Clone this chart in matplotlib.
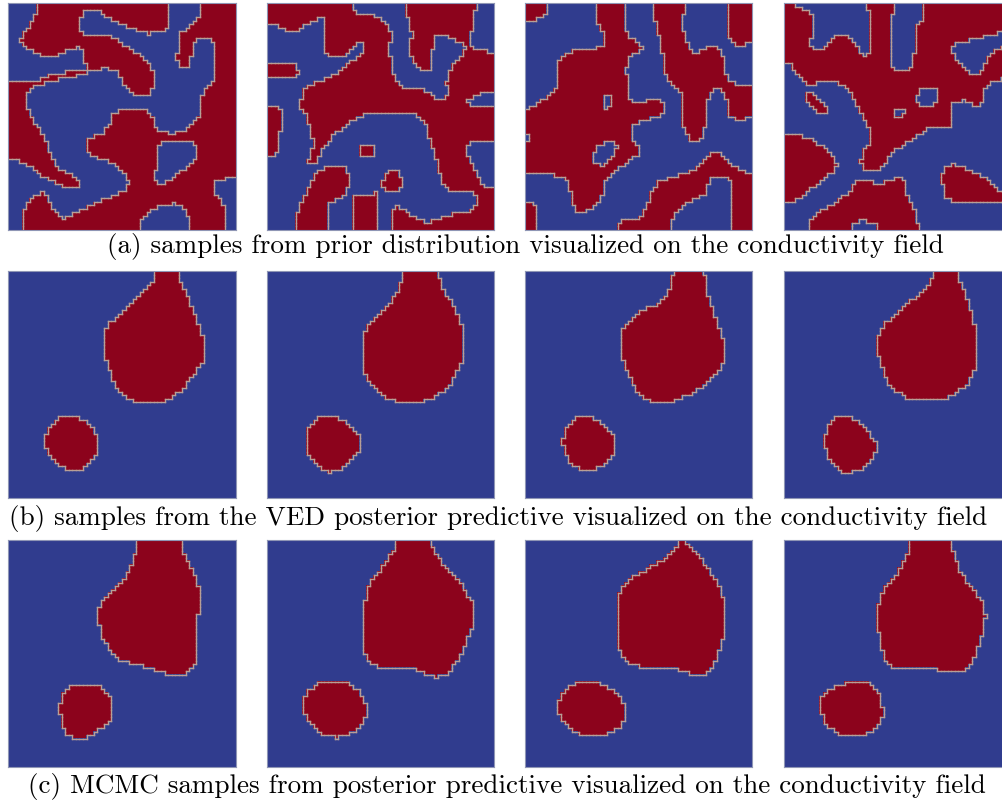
import numpy as np
import matplotlib
matplotlib.use('Agg')
import matplotlib.pyplot as plt
from matplotlib.path import Path
from matplotlib.collections import LineCollection
from matplotlib.colors import ListedColormap

N = 64  # field resolution (64 x 64 cells)
RED = '#8c031c'
BLUE = '#303c8e'
EDGE = '#b89f96'
FRAME = '#8f96b5'

# ---- prior samples: outlines traced on a 684x682 px copy of each panel ----
# entries are (value, vertices), painted in order; 1 = red, 0 = blue
PRIOR1_ORIGIN = (9, 9)
PRIOR1_BASE = 0
PRIOR1 = [
    (1, [(95, -10), (487, -10), (495, 50), (490, 85), (470, 95), (430, 100), (380, 85), (340, 70), (300, 50),
         (270, 25), (250, 25), (230, 40), (225, 80), (230, 105), (300, 105), (340, 120), (380, 150), (420, 175),
         (440, 200), (445, 240), (440, 280), (410, 290), (380, 280), (360, 260), (345, 230), (330, 210), (300, 205),
         (260, 210), (230, 224), (170, 236), (120, 248), (100, 252), (80, 260), (65, 280), (60, 310), (70, 330),
         (75, 345), (90, 370), (110, 400), (120, 425), (130, 455), (145, 485), (160, 505), (185, 515), (210, 530),
         (225, 545), (225, 560), (210, 565), (175, 560), (130, 540), (105, 525), (80, 505), (50, 485), (9, 475),
         (-10, 475), (-10, 240), (9, 240), (100, 240), (120, 230), (170, 218), (230, 208), (245, 208), (240, 200),
         (235, 160), (225, 140), (195, 148), (160, 162), (125, 170), (90, 158), (60, 140), (45, 120), (55, 95),
         (75, 70), (92, 40), (95, 9)]),
    (1, [(590, -10), (700, -10), (700, 530), (693, 530), (650, 540), (625, 550), (630, 575), (650, 605), (665, 625),
         (665, 655), (660, 690), (660, 700), (560, 700), (560, 690), (555, 665), (545, 635), (530, 615), (500, 610),
         (460, 620), (430, 635), (410, 655), (400, 690), (400, 700), (55, 700), (55, 690), (50, 645), (60, 615),
         (80, 595), (100, 580), (115, 577), (125, 595), (140, 625), (155, 645), (175, 655), (190, 650), (210, 640),
         (240, 625), (270, 610), (300, 595), (330, 585), (360, 570), (370, 545), (360, 525), (350, 510), (330, 495),
         (310, 485), (280, 475), (250, 460), (240, 435), (240, 415), (260, 410), (290, 405), (300, 390), (320, 365),
         (322, 345), (345, 330), (380, 327), (420, 333), (440, 345), (450, 375), (470, 395), (500, 400), (540, 395),
         (570, 365), (585, 345), (585, 310), (590, 285), (605, 265), (625, 240), (630, 215), (628, 180), (625, 130),
         (610, 118), (575, 120), (568, 130), (560, 170), (555, 200), (540, 205), (520, 190), (515, 170), (520, 130),
         (525, 100), (560, 75), (580, 50), (590, 9)]),
    (0, [(470, 425), (500, 420), (540, 423), (575, 435), (580, 450), (570, 475), (545, 500), (510, 530), (480, 545),
         (455, 557), (450, 535), (455, 475), (460, 440)]),
]

PRIOR2_ORIGIN = (36, 8)
PRIOR2_BASE = 1
PRIOR2 = [
    (0, [(26, 65), (36, 65), (65, 75), (100, 97), (130, 90), (165, 65), (195, 50), (205, 55), (210, 100), (205, 130),
         (215, 160), (240, 170), (265, 165), (285, 148), (300, 130), (315, 125), (327, 135), (327, 152), (312, 168),
         (288, 182), (262, 200), (240, 220), (215, 235), (185, 245), (160, 255), (145, 270), (138, 295), (135, 320),
         (150, 345), (158, 370), (165, 400), (175, 430), (168, 455), (155, 480), (160, 495), (180, 490), (195, 460),
         (215, 430), (240, 400), (270, 375), (300, 355), (330, 340), (380, 335), (450, 335), (480, 340), (500, 355),
         (515, 380), (520, 410), (530, 440), (545, 480), (555, 520), (565, 555), (580, 570), (620, 570), (650, 575),
         (665, 590), (665, 615), (645, 630), (610, 640), (570, 645), (540, 660), (515, 665), (490, 655), (460, 640),
         (440, 625), (420, 615), (410, 640), (405, 690), (405, 700), (26, 700)]),
    (0, [(290, -10), (290, 8), (300, 30), (320, 42), (350, 42), (380, 60), (400, 80), (410, 110), (400, 140),
         (405, 175), (410, 205), (420, 230), (440, 255), (465, 268), (495, 265), (520, 278), (545, 295), (570, 300),
         (578, 285), (575, 250), (580, 215), (600, 185), (625, 155), (638, 142), (600, 115), (560, 100), (540, 110),
         (533, 150), (530, 195), (520, 212), (495, 210), (478, 190), (465, 155), (470, 100), (460, 60), (450, 8),
         (450, -10)]),
    (0, [(665, -10), (665, 8), (660, 40), (655, 80), (645, 120), (642, 138), (680, 150), (740, 155), (740, -10)]),
    (0, [(740, 268), (690, 275), (660, 285), (638, 300), (655, 320), (740, 322)]),
    (0, [(740, 420), (680, 425), (640, 430), (630, 450), (645, 480), (665, 510), (680, 545), (690, 560), (740, 565)]),
    (1, [(26, 195), (70, 188), (105, 186), (125, 195), (128, 222), (110, 232), (26, 232)]),
    (1, [(26, 318), (60, 320), (78, 332), (85, 350), (78, 375), (72, 400), (70, 440), (60, 460), (45, 470), (26, 470)]),
    (1, [(318, 436), (330, 430), (350, 433), (360, 448), (358, 464), (318, 464)]),
    (1, [(395, 515), (410, 508), (430, 515), (442, 535), (440, 560), (425, 570), (385, 570), (380, 545)]),
    (1, [(120, 700), (120, 690), (125, 640), (140, 600), (160, 560), (175, 530), (190, 510), (215, 500), (250, 495),
         (270, 500), (278, 520), (280, 560), (270, 580), (240, 598), (222, 610), (215, 630), (215, 700)]),
    (1, [(290, 700), (290, 690), (292, 600), (300, 580), (365, 578), (365, 700)]),
]

PRIOR3_ORIGIN = (30, 8)
PRIOR3_BASE = 0
PRIOR3 = [
    (1, [(20, -10), (100, -10), (100, 8), (95, 40), (70, 55), (40, 65), (20, 70)]),
    (1, [(245, -10), (245, 60), (255, 85), (265, 110), (260, 140), (180, 145), (155, 160), (130, 185), (130, 230),
         (120, 265), (90, 290), (60, 310), (30, 335), (20, 335), (20, 525), (30, 525), (90, 520), (150, 530),
         (160, 560), (170, 590), (175, 625), (190, 640), (220, 630), (250, 600), (265, 580), (270, 545), (290, 520),
         (330, 490), (355, 470), (375, 460), (370, 440), (350, 420), (345, 400), (355, 375), (380, 360), (420, 350),
         (440, 340), (445, 320), (440, 300), (415, 295), (385, 305), (360, 310), (345, 295), (340, 270), (340, 230),
         (330, 215), (340, 180), (350, 165), (370, 155), (380, 140), (360, 120), (340, 110), (330, 85), (325, 40),
         (330, -10)]),
    (1, [(415, -10), (420, 60), (430, 90), (432, 130), (445, 165), (450, 200), (455, 240), (475, 255), (490, 265),
         (500, 290), (500, 340), (505, 380), (515, 405), (530, 425), (545, 430), (560, 410), (570, 380), (572, 330),
         (580, 300), (595, 270), (610, 265), (630, 275), (635, 300), (635, 335), (640, 350), (660, 355), (690, 355),
         (725, 352), (725, 248), (690, 250), (660, 250), (640, 240), (630, 215), (625, 180), (620, 150), (600, 140),
         (575, 140), (545, 155), (525, 150), (515, 125), (505, 90), (505, 50), (510, -10)]),
    (1, [(640, -10), (640, 110), (650, 125), (670, 132), (700, 130), (725, 130), (725, -10)]),
    (1, [(305, 700), (305, 690), (310, 665), (340, 660), (380, 650), (395, 610), (410, 570), (430, 545), (470, 530),
         (520, 515), (560, 490), (590, 460), (605, 455), (630, 470), (660, 500), (690, 515), (725, 520), (725, 700)]),
    (1, [(20, 600), (45, 605), (60, 620), (65, 650), (65, 700), (20, 700)]),
    (0, [(265, 290), (280, 285), (288, 300), (285, 318), (270, 325), (260, 315), (260, 300)]),
    (0, [(255, 430), (290, 425), (305, 440), (300, 460), (280, 480), (260, 495), (240, 490), (235, 470), (240, 445)]),
    (0, [(465, 700), (470, 660), (490, 625), (530, 600), (575, 580), (585, 530), (640, 530), (655, 555), (650, 700)]),
    (0, [(20, 390), (42, 400), (45, 415), (20, 425)]),
]

PRIOR4_ORIGIN = (42, 8)
PRIOR4_BASE = 0
PRIOR4 = [
    (1, [(30, -10), (740, -10), (740, 235), (699, 235), (690, 240), (655, 250), (645, 265), (640, 295), (625, 320),
         (610, 310), (580, 300), (545, 305), (545, 330), (540, 380), (510, 385), (470, 385), (450, 400), (420, 420),
         (395, 440), (370, 455), (350, 480), (330, 500), (310, 515), (285, 510), (270, 490), (275, 460), (290, 440),
         (300, 415), (295, 390), (285, 360), (270, 340), (260, 320), (250, 290), (230, 265), (200, 245), (170, 238),
         (140, 245), (115, 260), (100, 245), (80, 220), (60, 195), (42, 185), (30, 185)]),
    (1, [(30, 400), (80, 405), (120, 415), (160, 440), (190, 465), (200, 490), (195, 510), (175, 525), (150, 545),
         (125, 565), (100, 585), (70, 600), (42, 605), (30, 605)]),
    (1, [(110, 700), (110, 690), (120, 660), (145, 635), (175, 620), (200, 600), (235, 575), (260, 545), (280, 540),
         (300, 545), (330, 548), (360, 540), (385, 530), (400, 545), (410, 580), (430, 615), (440, 650), (445, 690),
         (445, 700)]),
    (1, [(515, 520), (530, 500), (550, 492), (580, 500), (610, 515), (640, 530), (665, 550), (690, 570), (710, 580),
         (710, 605), (670, 610), (640, 605), (600, 605), (560, 602), (530, 598), (522, 570), (515, 545)]),
    (1, [(105, 282), (120, 275), (140, 290), (160, 308), (170, 325), (162, 340), (140, 335), (120, 320), (108, 300)]),
    (0, [(65, -10), (65, 8), (100, 25), (125, 45), (125, 90), (120, 140), (150, 150), (180, 120), (210, 100),
         (240, 110), (265, 135), (275, 165), (295, 160), (300, 140), (298, 60), (290, 8), (290, -10)]),
    (0, [(375, -10), (375, 8), (365, 60), (360, 130), (360, 195), (380, 210), (400, 215), (420, 200), (430, 180),
         (435, 130), (440, 80), (455, 60), (460, 8), (460, -10)]),
    (0, [(540, 135), (560, 130), (600, 120), (650, 108), (699, 95), (740, 93), (740, 140), (699, 140), (680, 148),
         (660, 160), (650, 175), (640, 200), (625, 222), (600, 220), (580, 200), (560, 175), (545, 155)]),
    (0, [(440, 290), (450, 270), (470, 262), (495, 262), (505, 275), (500, 300), (490, 318), (445, 318)]),
    (0, [(372, 335), (385, 325), (405, 322), (410, 335), (395, 348), (375, 352)]),
    (0, [(245, 700), (245, 668), (270, 662), (320, 665), (325, 700)]),
]

PRIOR_SCALE = (684, 682)

# ---- posterior samples: inclusion outlines, fractions of the panel (x right, y down) ----
VED_DROPS = [
    [(0.652, -0.02), (0.740, -0.02), (0.762, 0.059), (0.798, 0.132), (0.827, 0.206), (0.849, 0.265), (0.864, 0.338),
     (0.860, 0.382), (0.842, 0.419), (0.813, 0.456), (0.769, 0.515), (0.725, 0.551), (0.681, 0.571), (0.637, 0.581),
     (0.579, 0.581), (0.528, 0.559), (0.484, 0.522), (0.455, 0.471), (0.430, 0.397), (0.418, 0.338), (0.415, 0.279),
     (0.436, 0.235), (0.484, 0.191), (0.535, 0.140), (0.594, 0.088), (0.637, 0.044)],
    [(0.604, -0.02), (0.743, -0.02), (0.772, 0.074), (0.823, 0.162), (0.852, 0.235), (0.867, 0.316), (0.860, 0.368),
     (0.845, 0.426), (0.816, 0.485), (0.772, 0.529), (0.728, 0.559), (0.684, 0.574), (0.567, 0.574), (0.509, 0.551),
     (0.458, 0.500), (0.428, 0.456), (0.417, 0.397), (0.414, 0.294), (0.436, 0.250), (0.494, 0.191), (0.545, 0.132),
     (0.582, 0.066)],
    [(0.656, -0.02), (0.784, -0.02), (0.803, 0.103), (0.832, 0.191), (0.861, 0.279), (0.876, 0.324), (0.871, 0.404),
     (0.839, 0.456), (0.781, 0.507), (0.722, 0.544), (0.664, 0.566), (0.605, 0.585), (0.532, 0.566), (0.481, 0.515),
     (0.452, 0.456), (0.430, 0.397), (0.415, 0.338), (0.415, 0.257), (0.466, 0.206), (0.532, 0.162), (0.576, 0.147),
     (0.620, 0.103), (0.642, 0.059)],
    [(0.668, -0.02), (0.751, -0.02), (0.785, 0.074), (0.814, 0.147), (0.832, 0.221), (0.844, 0.265), (0.844, 0.412),
     (0.829, 0.456), (0.800, 0.500), (0.756, 0.537), (0.683, 0.566), (0.551, 0.566), (0.507, 0.537), (0.463, 0.500),
     (0.434, 0.441), (0.420, 0.397), (0.408, 0.338), (0.412, 0.287), (0.434, 0.235), (0.478, 0.199), (0.537, 0.147),
     (0.595, 0.096), (0.646, 0.044)],
]
VED_BLOBS = [
    [(0.228, 0.647), (0.316, 0.647), (0.367, 0.684), (0.393, 0.743), (0.392, 0.794), (0.360, 0.838), (0.323, 0.871),
     (0.265, 0.875), (0.206, 0.846), (0.170, 0.801), (0.155, 0.750), (0.170, 0.699), (0.199, 0.662)],
    [(0.231, 0.635), (0.319, 0.650), (0.377, 0.691), (0.404, 0.735), (0.401, 0.787), (0.363, 0.838), (0.319, 0.871),
     (0.268, 0.885), (0.216, 0.853), (0.180, 0.809), (0.165, 0.750), (0.180, 0.691), (0.216, 0.644)],
    [(0.240, 0.640), (0.291, 0.647), (0.342, 0.676), (0.379, 0.713), (0.398, 0.757), (0.393, 0.801), (0.342, 0.853),
     (0.298, 0.871), (0.247, 0.871), (0.196, 0.846), (0.170, 0.794), (0.159, 0.743), (0.181, 0.684), (0.211, 0.651)],
    [(0.222, 0.647), (0.295, 0.647), (0.339, 0.676), (0.376, 0.721), (0.402, 0.757), (0.402, 0.794), (0.376, 0.838),
     (0.339, 0.868), (0.295, 0.885), (0.251, 0.885), (0.208, 0.846), (0.183, 0.801), (0.174, 0.750), (0.183, 0.699),
     (0.200, 0.662)],
]
MCMC_DROPS = [
    [(0.564, -0.02), (0.762, -0.02), (0.766, 0.044), (0.798, 0.118), (0.827, 0.176), (0.842, 0.213), (0.842, 0.324),
     (0.835, 0.331), (0.835, 0.522), (0.810, 0.566), (0.769, 0.596), (0.725, 0.596), (0.652, 0.574), (0.579, 0.551),
     (0.528, 0.537), (0.491, 0.529), (0.447, 0.485), (0.418, 0.441), (0.401, 0.397), (0.393, 0.309), (0.404, 0.279),
     (0.447, 0.235), (0.506, 0.176), (0.528, 0.132), (0.550, 0.074), (0.564, 0.029)],
    [(0.575, -0.02), (0.721, -0.02), (0.728, 0.044), (0.772, 0.103), (0.816, 0.147), (0.860, 0.206), (0.901, 0.272),
     (0.904, 0.368), (0.889, 0.412), (0.867, 0.471), (0.830, 0.537), (0.787, 0.596), (0.735, 0.603), (0.662, 0.574),
     (0.618, 0.559), (0.487, 0.556), (0.450, 0.537), (0.421, 0.485), (0.414, 0.412), (0.418, 0.338), (0.428, 0.265),
     (0.450, 0.191), (0.494, 0.132), (0.523, 0.088), (0.553, 0.044)],
    [(0.693, -0.01), (0.722, 0.022), (0.766, 0.074), (0.810, 0.132), (0.846, 0.191), (0.868, 0.250), (0.880, 0.294),
     (0.883, 0.382), (0.868, 0.441), (0.846, 0.500), (0.825, 0.551), (0.788, 0.596), (0.737, 0.596), (0.693, 0.574),
     (0.613, 0.556), (0.510, 0.556), (0.466, 0.551), (0.430, 0.522), (0.412, 0.471), (0.404, 0.412), (0.404, 0.294),
     (0.412, 0.243), (0.430, 0.206), (0.466, 0.169), (0.518, 0.140), (0.576, 0.103), (0.620, 0.074), (0.656, 0.037)],
    [(0.558, -0.02), (0.734, -0.02), (0.741, 0.044), (0.763, 0.118), (0.800, 0.176), (0.844, 0.235), (0.873, 0.279),
     (0.884, 0.331), (0.873, 0.412), (0.851, 0.471), (0.829, 0.529), (0.785, 0.581), (0.712, 0.581), (0.646, 0.566),
     (0.478, 0.556), (0.442, 0.529), (0.427, 0.471), (0.412, 0.397), (0.405, 0.360), (0.412, 0.294), (0.427, 0.243),
     (0.456, 0.191), (0.500, 0.140), (0.522, 0.103), (0.539, 0.059)],
]
MCMC_BLOBS = [
    [(0.287, 0.635), (0.389, 0.635), (0.433, 0.669), (0.455, 0.706), (0.460, 0.743), (0.447, 0.787), (0.418, 0.824),
     (0.367, 0.853), (0.338, 0.871), (0.294, 0.875), (0.257, 0.853), (0.235, 0.809), (0.225, 0.750), (0.228, 0.691),
     (0.250, 0.654)],
    [(0.216, 0.632), (0.355, 0.632), (0.399, 0.662), (0.428, 0.706), (0.433, 0.765), (0.421, 0.801), (0.392, 0.838),
     (0.348, 0.860), (0.304, 0.868), (0.260, 0.865), (0.216, 0.838), (0.180, 0.801), (0.158, 0.750), (0.158, 0.706),
     (0.180, 0.662)],
    [(0.225, 0.629), (0.313, 0.629), (0.371, 0.654), (0.415, 0.691), (0.442, 0.743), (0.437, 0.787), (0.415, 0.824),
     (0.371, 0.850), (0.327, 0.865), (0.276, 0.865), (0.232, 0.850), (0.189, 0.824), (0.152, 0.779), (0.135, 0.728),
     (0.152, 0.691), (0.196, 0.640)],
    [(0.273, 0.629), (0.361, 0.629), (0.405, 0.654), (0.427, 0.706), (0.434, 0.765), (0.420, 0.809), (0.390, 0.838),
     (0.346, 0.860), (0.266, 0.865), (0.215, 0.838), (0.178, 0.809), (0.156, 0.750), (0.156, 0.706), (0.178, 0.669),
     (0.230, 0.640)],
]

CAPTIONS = [
    '(a) samples from prior distribution visualized on the conductivity field',
    '(b) samples from the VED posterior predictive visualized on the conductivity field',
    '(c) MCMC samples from posterior predictive visualized on the conductivity field',
]


def rasterize(shapes, origin=(0, 0), scale=(1, 1), base=0):
    c = (np.arange(N) + 0.5) / N
    uu, vv = np.meshgrid(c, c)
    pts = np.column_stack([uu.ravel(), vv.ravel()])
    field = np.full(N * N, base)
    for val, verts in shapes:
        v = (np.array(verts, float) - np.array(origin, float)) / np.array(scale, float)
        field[Path(v).contains_points(pts)] = val
    return field.reshape(N, N)


def edges(field):
    # staircase boundary along the cell edges where red meets blue
    segs = []
    n = field.shape[0]
    ii, jj = np.nonzero(field[:, 1:] != field[:, :-1])
    for i, j in zip(ii, jj):
        x = (j + 1) / n
        segs.append([(x, i / n), (x, (i + 1) / n)])
    ii, jj = np.nonzero(field[1:, :] != field[:-1, :])
    for i, j in zip(ii, jj):
        y = (i + 1) / n
        segs.append([(j / n, y), ((j + 1) / n, y)])
    return segs


fields = [
    [rasterize(PRIOR1, PRIOR1_ORIGIN, PRIOR_SCALE, PRIOR1_BASE),
     rasterize(PRIOR2, PRIOR2_ORIGIN, PRIOR_SCALE, PRIOR2_BASE),
     rasterize(PRIOR3, PRIOR3_ORIGIN, PRIOR_SCALE, PRIOR3_BASE),
     rasterize(PRIOR4, PRIOR4_ORIGIN, PRIOR_SCALE, PRIOR4_BASE)],
    [rasterize([(1, d), (1, b)]) for d, b in zip(VED_DROPS, VED_BLOBS)],
    [rasterize([(1, d), (1, b)]) for d, b in zip(MCMC_DROPS, MCMC_BLOBS)],
]

W, H = 1003, 808
fig = plt.figure(figsize=(W / 100, H / 100), dpi=100)
cmap = ListedColormap([BLUE, RED])

col_x = [8, 267, 525, 784]
row_y = [3, 271, 540]
size = (228, 227)
cap_y = [247, 519, 787]
cap_x = [525, 498, 507]

for r in range(3):
    for c in range(4):
        ax = fig.add_axes([col_x[c] / W, 1 - (row_y[r] + size[1]) / H, size[0] / W, size[1] / H])
        f = fields[r][c]
        ax.imshow(f, cmap=cmap, vmin=0, vmax=1, extent=(0, 1, 1, 0), interpolation='nearest')
        ax.add_collection(LineCollection(edges(f), colors=EDGE, linewidths=1.0, capstyle='projecting'))
        ax.set_xlim(0, 1)
        ax.set_ylim(1, 0)
        ax.set_xticks([])
        ax.set_yticks([])
        for s in ax.spines.values():
            s.set_color(FRAME)
            s.set_linewidth(0.8)
    fig.text(cap_x[r] / W, 1 - cap_y[r] / H, CAPTIONS[r], ha='center', va='center',
             fontfamily='cmr10', fontsize=19.5)

fig.savefig('out.png', dpi=100)
